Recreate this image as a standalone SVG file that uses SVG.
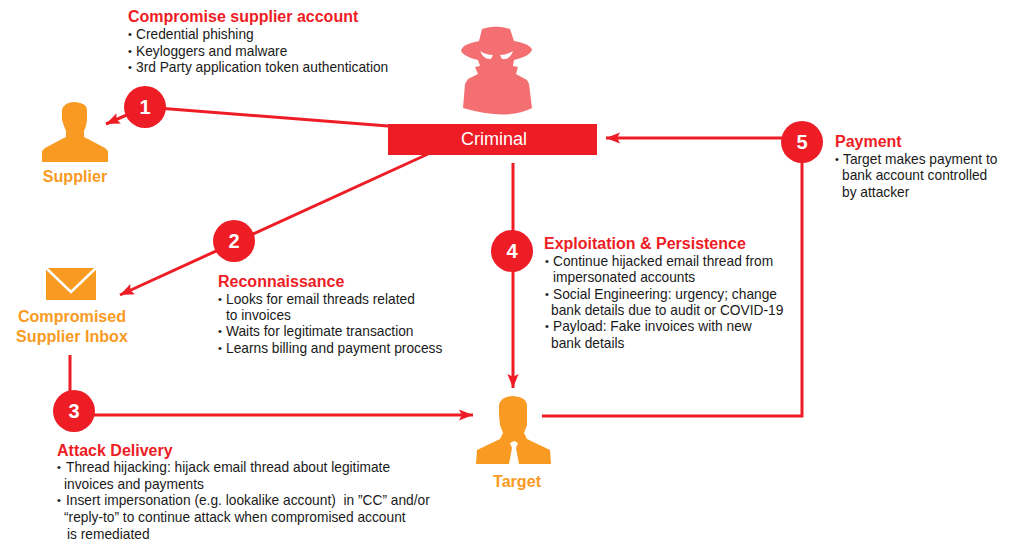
<svg xmlns="http://www.w3.org/2000/svg" width="1024" height="548" viewBox="0 0 1024 548">
<style>
text{font-family:"Liberation Sans",Arial,sans-serif}
.h{font-size:16px;font-weight:bold;fill:#ee1c25}
.t{font-size:13.75px;fill:#1a1a1a;white-space:pre}
.b{font-size:11px}
.o{font-size:16.1px;font-weight:bold;fill:#f99a22;text-anchor:middle}
.n{font-size:20px;font-weight:bold;fill:#fff;text-anchor:middle}
.c{fill:#ee1c25}
.l{stroke:#ee1c25;stroke-width:3;fill:none}
.p{fill:#f99a22}
</style>
<defs>
<marker id="a" markerWidth="14" markerHeight="12" refX="10" refY="4" orient="auto" markerUnits="userSpaceOnUse" viewBox="0 0 10 8"><path d="M0 0L10 4L0 8L2 4z" fill="#ee1c25"/></marker>
</defs>
<rect width="1024" height="548" fill="#fff"/>
<g id="connectors">
<path class="l" d="M388 126L145 107L106 124" marker-end="url(#a)"/>
<path class="l" d="M428 154L120 295" marker-end="url(#a)"/>
<path class="l" d="M70 355V415H473" marker-end="url(#a)"/>
<path class="l" d="M513 163V388" marker-end="url(#a)"/>
<path class="l" d="M542 416H802V138H606" marker-end="url(#a)"/>
</g>
<g id="supplier">
<path class="p" d="M62 110Q64 102 75 102Q87 103 87 110V120L86 126L84 131V137L88 139L105 148L108 151V162H42V151L45 148L62 139L66 137V131L64 126L62 120z"/>
<text class="o" x="75" y="182">Supplier</text>
</g>
<g id="criminal">
<path fill="#f46f72" d="M482 29Q496 24 510 29L514 41Q531 44 532 50Q530 56 514 60L513 66L518 67L516 74L527 80L529 84L532 108Q508 121 463 108L465 84L468 79L478 74L475 67L480 66L478 60Q462 56 461 50Q463 44 479 41z"/>
<path fill="#fff" d="M480 51Q486 55 493 55L491 59Q484 60 480 51zM513 51Q507 55 500 55L502 59Q510 60 513 51z"/>
<rect x="388" y="124" width="209" height="31" fill="#ee1c25"/>
<text x="494" y="145" font-size="18" fill="#fff" text-anchor="middle">Criminal</text>
</g>
<g id="inbox">
<rect class="p" x="46" y="268" width="50" height="32"/>
<path d="M46 268L71 292L96 268" fill="none" stroke="#fff" stroke-width="2.5"/>
<text class="o" x="72" y="322">Compromised</text>
<text class="o" x="72" y="342">Supplier Inbox</text>
</g>
<g id="target">
<path class="p" d="M499 405Q501 396 513 396Q527 397 527 406V415L527 425L524 433L527 439L550 450L551 464H476L477 450L500 439L503 433L500 425L499 415z"/>
<path fill="#fff" d="M510 443L514 441L518 443L516 448L519 464H509L512 448z"/>
<text class="o" x="517" y="487">Target</text>
</g>
<g id="n1"><circle class="c" cx="145" cy="107" r="21"/><text class="n" x="145" y="114">1</text></g>
<g id="n2"><circle class="c" cx="234" cy="241" r="21"/><text class="n" x="234" y="248">2</text></g>
<g id="n3"><circle class="c" cx="74" cy="411" r="21"/><text class="n" x="74" y="418">3</text></g>
<g id="n4"><circle class="c" cx="512" cy="251" r="21"/><text class="n" x="512" y="258">4</text></g>
<g id="n5"><circle class="c" cx="802" cy="142" r="21"/><text class="n" x="802" y="149">5</text></g>
<g id="t1">
<text class="h" x="128" y="22">Compromise supplier account</text>
<text class="t" x="128" y="39"><tspan class="b" dy="-1">•</tspan><tspan x="136" dy="1">Credential phishing</tspan></text>
<text class="t" x="128" y="56"><tspan class="b" dy="-1">•</tspan><tspan x="136" dy="1">Keyloggers and malware</tspan></text>
<text class="t" x="128" y="72"><tspan class="b" dy="-1">•</tspan><tspan x="136" dy="1">3rd Party application token authentication</tspan></text>
</g>
<g id="t2">
<text class="h" x="218" y="287">Reconnaissance</text>
<text class="t" x="218" y="304"><tspan class="b" dy="-1">•</tspan><tspan x="226" dy="1">Looks for email threads related</tspan></text>
<text class="t" x="226" y="320">to invoices</text>
<text class="t" x="218" y="336"><tspan class="b" dy="-1">•</tspan><tspan x="226" dy="1">Waits for legitimate transaction</tspan></text>
<text class="t" x="218" y="353"><tspan class="b" dy="-1">•</tspan><tspan x="226" dy="1">Learns billing and payment process</tspan></text>
</g>
<g id="t3">
<text class="h" x="57" y="456">Attack Delivery</text>
<text class="t" x="57" y="472"><tspan class="b" dy="-1">•</tspan><tspan x="66" dy="1">Thread hijacking: hijack email thread about legitimate</tspan></text>
<text class="t" x="64" y="489">invoices and payments</text>
<text class="t" x="57" y="505"><tspan class="b" dy="-1">•</tspan><tspan x="66" dy="1">Insert impersonation (e.g. lookalike account)  in ”CC” and/or</tspan></text>
<text class="t" x="64" y="522">“reply-to” to continue attack when compromised account</text>
<text class="t" x="67" y="539">is remediated</text>
</g>
<g id="t4">
<text class="h" x="544" y="249">Exploitation &amp; Persistence</text>
<text class="t" x="545" y="266"><tspan class="b" dy="-1">•</tspan><tspan x="553" dy="1">Continue hijacked email thread from</tspan></text>
<text class="t" x="553" y="282">impersonated accounts</text>
<text class="t" x="545" y="299"><tspan class="b" dy="-1">•</tspan><tspan x="553" dy="1">Social Engineering: urgency; change</tspan></text>
<text class="t" x="551" y="315">bank details due to audit or COVID-19</text>
<text class="t" x="545" y="331"><tspan class="b" dy="-1">•</tspan><tspan x="553" dy="1">Payload: Fake invoices with new</tspan></text>
<text class="t" x="551" y="348">bank details</text>
</g>
<g id="t5">
<text class="h" x="835" y="147">Payment</text>
<text class="t" x="835" y="164"><tspan class="b" dy="-1">•</tspan><tspan x="843" dy="1">Target makes payment to</tspan></text>
<text class="t" x="842" y="180">bank account controlled</text>
<text class="t" x="842" y="197">by attacker</text>
</g>
</svg>
